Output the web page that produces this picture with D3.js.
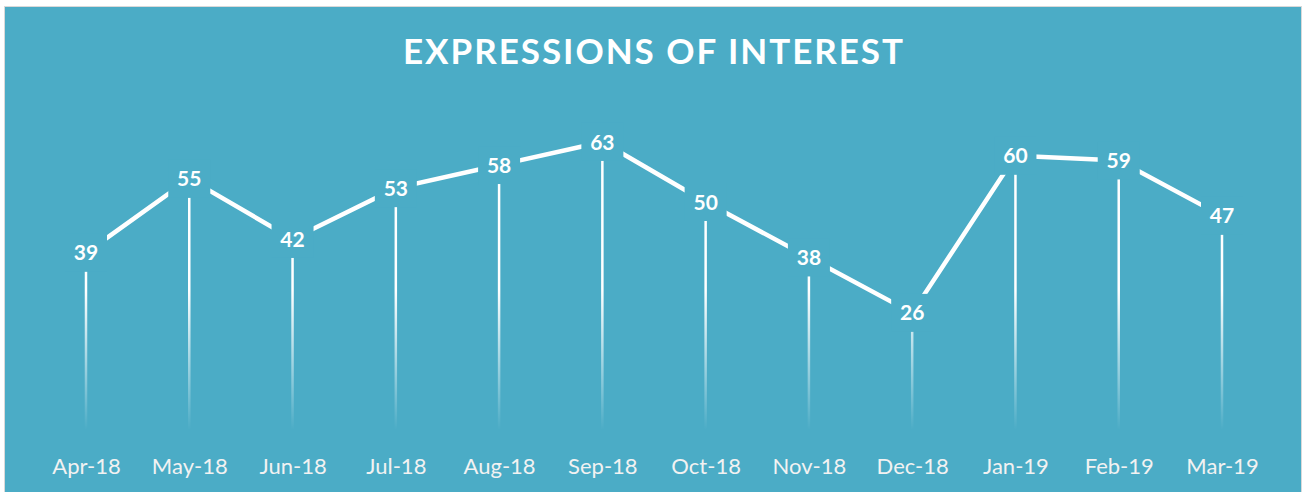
<!DOCTYPE html>
<html>
<head>
<meta charset="utf-8">
<script src="https://cdn.jsdelivr.net/npm/d3@7"></script>
<style>
  html, body { margin: 0; padding: 0; background: #fff; }
  svg { display: block; }
</style>
</head>
<body>
<div id="chart"></div>
<script>
// data
const months = ["Apr-18", "May-18", "Jun-18", "Jul-18", "Aug-18", "Sep-18",
                "Oct-18", "Nov-18", "Dec-18", "Jan-19", "Feb-19", "Mar-19"];
const interest = [39, 55, 42, 53, 58, 63, 50, 38, 26, 60, 59, 47];
const yDomain = [0, 70];
const chartTitle = "EXPRESSIONS OF INTEREST";

const width = 1303, height = 492;
const bg = "#4bacc6";
const font = "Lato, 'Open Sans', sans-serif";

const svg = d3.select("#chart").append("svg")
  .attr("width", width)
  .attr("height", height);

svg.append("rect")
  .attr("x", 4.5).attr("y", 6.5)
  .attr("width", width - 6).attr("height", height - 5)
  .attr("fill", bg)
  .attr("stroke", "#d9d9d9")
  .attr("stroke-width", 1);

const x = d3.scalePoint().domain(months).range([86, 1222]);
const y = d3.scaleLinear().domain(yDomain).range([433, 109.6]);

// fading drop lines
const defs = svg.append("defs");
const grad = defs.append("linearGradient")
  .attr("id", "dropFade")
  .attr("gradientUnits", "userSpaceOnUse")
  .attr("x1", 0).attr("x2", 0)
  .attr("y1", 290).attr("y2", 430);
grad.append("stop").attr("offset", 0).attr("stop-color", "#fff").attr("stop-opacity", 1);
grad.append("stop").attr("offset", 1).attr("stop-color", "#fff").attr("stop-opacity", 0);

const pts = months.map((m, i) => ({ m, v: interest[i] }));

svg.append("g").selectAll("line")
  .data(pts)
  .join("line")
  .attr("x1", d => x(d.m)).attr("x2", d => x(d.m))
  .attr("y1", d => y(d.v)).attr("y2", y(0) - 4)
  .attr("stroke", "url(#dropFade)")
  .attr("stroke-width", 2.5);

svg.append("path")
  .datum(pts)
  .attr("d", d3.line().x(d => x(d.m)).y(d => y(d.v)))
  .attr("fill", "none")
  .attr("stroke", "#fff")
  .attr("stroke-width", 4.5)
  .attr("stroke-linejoin", "miter");

// data labels with filled boxes that hide the line behind them
const lab = svg.append("g").selectAll("g")
  .data(pts)
  .join("g")
  .attr("transform", d => `translate(${x(d.m)},${y(d.v)})`);

lab.append("rect")
  .attr("x", -21).attr("y", -19)
  .attr("width", 42).attr("height", 38)
  .attr("fill", bg);

lab.append("text")
  .attr("text-anchor", "middle")
  .attr("dy", "0.36em")
  .attr("fill", "#fff")
  .attr("font-family", font)
  .attr("font-weight", 700)
  .attr("font-size", 21)
  .text(d => d.v);

// category axis
const axis = svg.append("g")
  .attr("transform", `translate(0,${y(0)})`)
  .call(d3.axisBottom(x).tickSize(0).tickPadding(25));
axis.select(".domain").remove();
axis.selectAll("text")
  .attr("fill", "#f2f2f2")
  .attr("font-family", font)
  .attr("font-size", 22);

// title, stretched to the reference width
const title = svg.append("text")
  .attr("x", 653).attr("y", 64)
  .attr("text-anchor", "middle")
  .attr("fill", "#fff")
  .attr("font-family", font)
  .attr("font-weight", 700)
  .attr("font-size", 35)
  .text(chartTitle);
const natural = title.node().getComputedTextLength();
const spacing = (500 - natural) / (chartTitle.length - 1);
title.attr("letter-spacing", spacing);
title.attr("x", 653 + spacing / 2);
</script>
</body>
</html>
